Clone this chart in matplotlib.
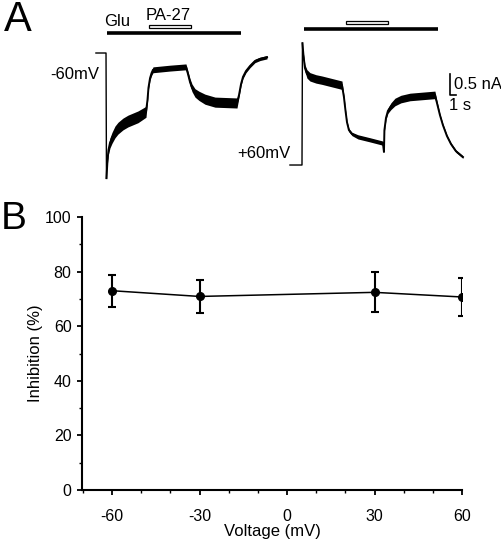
import matplotlib
matplotlib.use("Agg")
import matplotlib.pyplot as plt
from matplotlib.patches import Rectangle
import numpy as np

plt.rcParams["font.family"] = ["Liberation Sans", "DejaVu Sans"]
plt.rcParams["axes.unicode_minus"] = False

# Panel A: whole-cell currents (time in s from Glu onset, current in nA from holding)
t_neg60 = [-1.7, -0.15, -0.08, 0.08, 0.23, 0.46, 0.77, 1.23, 1.69, 2.46, 3.23, 4.77, 6.0,
           6.23, 6.38, 6.62, 6.85, 7.08, 9.69, 12.15, 12.46, 12.77, 13.08, 13.54, 14.15,
           15.08, 16.62, 20.0, 20.31, 20.62, 20.92, 21.38, 22.0, 22.77, 23.54, 24.62]
i_neg60 = [0.0, 0.0, -2.98, -2.55, -2.31, -2.14, -2.02, -1.88, -1.79, -1.69, -1.62, -1.52, -1.40,
           -1.12, -0.83, -0.60, -0.48, -0.40, -0.36, -0.33, -0.50, -0.69, -0.83, -0.95, -1.02,
           -1.10, -1.17, -1.19, -1.0, -0.74, -0.57, -0.43, -0.31, -0.19, -0.14, -0.10]
noise_neg60 = [0.0, 0.0, 0.0, 0.06, 0.1, 0.12, 0.13, 0.14, 0.14, 0.14, 0.14, 0.14, 0.13,
               0.05, 0.04, 0.05, 0.06, 0.07, 0.07, 0.07, 0.07, 0.08, 0.09, 0.1, 0.11,
               0.12, 0.12, 0.12, 0.05, 0.04, 0.04, 0.04, 0.04, 0.04, 0.04, 0.04]

t_pos60 = [-2.15, -0.3, -0.23, -0.08, 0.15, 0.46, 0.92, 1.85, 2.77, 5.85, 6.15, 6.38, 6.62,
           6.92, 7.38, 8.31, 10.15, 12.15, 12.31, 12.38, 12.62, 12.92, 13.38, 14.0, 14.92,
           16.31, 20.15, 20.46, 20.92, 21.38, 22.0, 22.62, 23.38, 24.46]
i_pos60 = [0.0, 0.0, 2.90, 2.62, 2.31, 2.17, 2.10, 2.05, 2.02, 1.90, 1.62, 1.31, 1.02,
           0.83, 0.74, 0.67, 0.60, 0.52, 0.31, 0.83, 1.12, 1.29, 1.40, 1.50, 1.57,
           1.62, 1.67, 1.48, 1.19, 0.95, 0.69, 0.50, 0.33, 0.19]
noise_pos60 = [0.0, 0.0, 0.0, 0.04, 0.08, 0.1, 0.1, 0.1, 0.1, 0.1, 0.04, 0.03, 0.03,
               0.04, 0.04, 0.05, 0.05, 0.05, 0.0, 0.03, 0.04, 0.06, 0.08, 0.09, 0.09,
               0.09, 0.09, 0.05, 0.03, 0.03, 0.03, 0.03, 0.03, 0.03]

glu_on = (0.0, 20.6)
pa27_on = (6.4, 12.9)

# Panel B: inhibition vs holding voltage
voltage = [-60, -30, 30, 60]
inhibition = [73.0, 70.9, 72.4, 70.7]
inhibition_sem = [5.9, 6.2, 7.3, 7.0]

fig = plt.figure(figsize=(5.02, 5.43), dpi=100)

# ---- panel A ----
axa = fig.add_axes([0, 343 / 543, 1, 200 / 543])
axa.set_xlim(-16.46, 60.77)
axa.set_ylim(-3.5, 1.262)
axa.axis("off")

traces = [(t_neg60, i_neg60, noise_neg60, 0.0, 0.0, 0.476, 0.595),
          (t_pos60, i_pos60, noise_pos60, 30.3, -2.667, 0.571, 0.69)]
for t, cur, nz, t0, i0, bar_y, pa_y in traces:
    t = np.array(t) + t0
    cur = np.array(cur) + i0
    nz = np.array(nz)
    axa.fill_between(t, cur - nz, cur + nz, color="black", lw=0)
    axa.plot(t[2:], cur[2:], color="black", lw=1.4)
    axa.plot(t[:3], cur[:3], color="black", lw=1.0)
    axa.plot([t0 + glu_on[0], t0 + glu_on[1]], [bar_y, bar_y], color="black", lw=2.6,
             solid_capstyle="butt")
    axa.add_patch(Rectangle((t0 + pa27_on[0], pa_y), pa27_on[1] - pa27_on[0], 0.07,
                            facecolor="white", edgecolor="black", lw=0.9))

axa.text(-0.5, 0.75, "Glu", fontsize=12, ha="left", va="center")
axa.text(6.0, 0.90, "PA-27", fontsize=12, ha="left", va="center")
axa.text(-1.2, -0.52, "-60mV", fontsize=12, ha="right", va="center")
axa.text(28.3, -2.40, "+60mV", fontsize=12, ha="right", va="center")

# scale bar
sx, sy = 52.77, -1.0
axa.plot([sx, sx, sx + 1.0], [sy + 0.5, sy, sy], color="black", lw=1.2)
axa.text(sx + 0.6, sy + 0.24, "0.5 nA", fontsize=12, ha="left", va="center")
axa.text(sx - 0.1, sy - 0.26, "1 s", fontsize=12, ha="left", va="center")

fig.text(4 / 502, 1 - 20 / 543, "A", fontsize=30, ha="left", va="center")
fig.text(1 / 502, 1 - 219 / 543, "B", fontsize=28, ha="left", va="center")

# ---- panel B ----
axb = fig.add_axes([82 / 502, 53 / 543, 380 / 502, 273 / 543])
axb.errorbar(voltage, inhibition, yerr=inhibition_sem, color="black", lw=1.1,
             marker="o", ms=5.5, capsize=2.6, elinewidth=1.5, capthick=1.5)
axb.set_xlim(-70.3, 60)
axb.set_ylim(0, 100)
axb.set_xticks([-60, -30, 0, 30, 60])
axb.set_xticks(np.arange(-70, 61, 10), minor=True)
axb.set_yticks([0, 20, 40, 60, 80, 100])
axb.set_yticks(np.arange(0, 101, 10), minor=True)
for s in ["top", "right"]:
    axb.spines[s].set_visible(False)
for s in ["left", "bottom"]:
    axb.spines[s].set_linewidth(1.5)
axb.tick_params(which="major", length=3.5, width=1.3, labelsize=11.5, pad=4)
axb.tick_params(which="minor", length=2, width=1.0)
axb.tick_params(axis="x", pad=10)
axb.set_xlabel("Voltage (mV)", fontsize=12, labelpad=0)
axb.set_ylabel("Inhibition (%)", fontsize=12, labelpad=1.5)

fig.savefig("out.png", dpi=100)
